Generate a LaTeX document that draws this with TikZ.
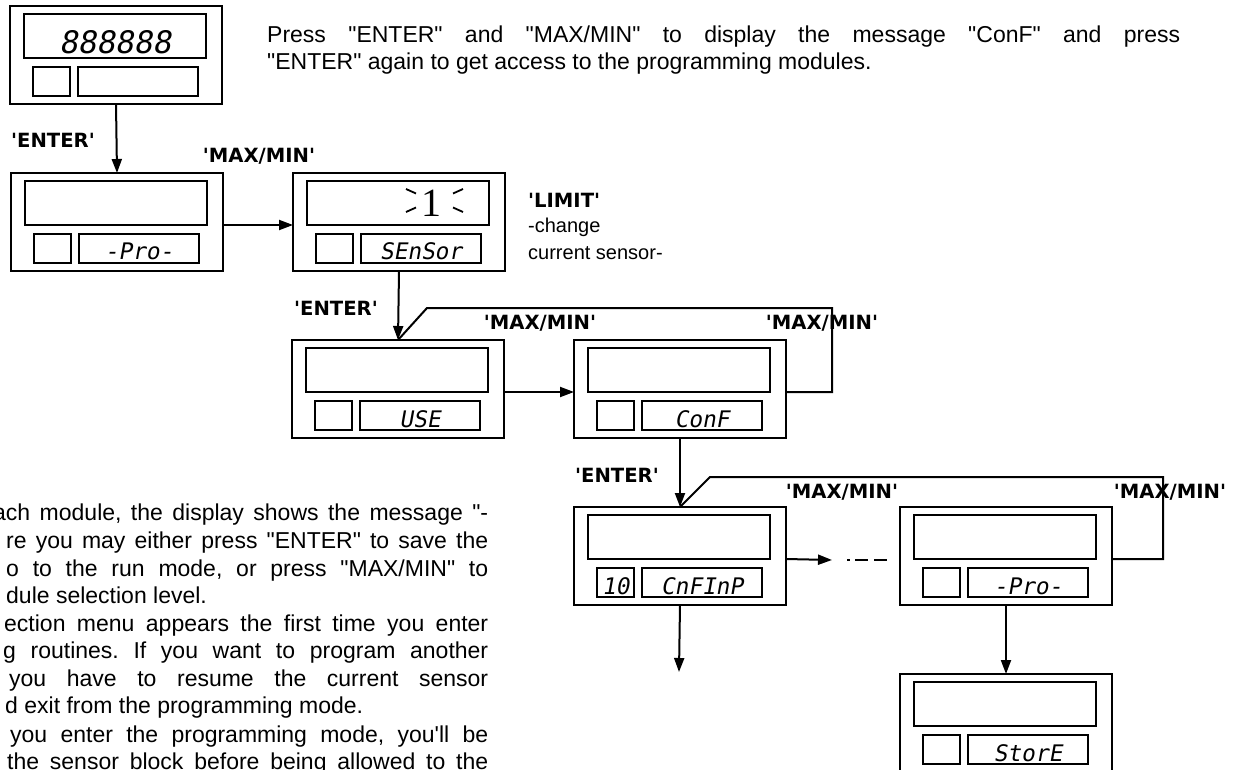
\documentclass[tikz,border=0pt]{standalone}
\usepackage{fontspec}
\usetikzlibrary{arrows.meta}
\newfontfamily\bodyfont{Liberation Sans}
\newfontfamily\lblfont{DejaVu Sans}
\newfontfamily\lcdfont{DejaVu Sans Mono}[FakeSlant=0.18]
\newfontfamily\onefont{Liberation Serif}
\frenchspacing
\tikzset{
 obox/.style={draw, line width=2pt, minimum width=212pt, minimum height=98pt, inner sep=0pt, outer sep=0pt, anchor=north west},
 ibox/.style={draw, line width=2pt, inner sep=0pt, outer sep=0pt, anchor=north west},
 lcdtxt/.style={font=\lcdfont\fontsize{22.8}{24}\selectfont, inner sep=0pt, anchor=base},
 lbl/.style={font=\lblfont\bfseries\fontsize{19.6}{22}\selectfont, inner sep=0pt},
 body/.style={font=\bodyfont\fontsize{23}{27.6}\selectfont\frenchspacing, inner sep=0pt, anchor=base west},
 small/.style={font=\bodyfont\fontsize{20}{26}\selectfont, inner sep=0pt, anchor=base west},
 arr/.style={line width=2pt, -{Triangle[length=14pt,width=10pt]}},
 con/.style={line width=2pt},
}
% name, x, y, small text, right text
\newcommand\lcdbox[5]{%
 \node[obox] (#1) at (#2,#3) {};
 \node[ibox, minimum width=182pt, minimum height=44pt] (#1d) at ([shift={(14,8)}]#1.north west) {};
 \node[ibox, minimum width=37pt, minimum height=29pt] (#1s) at ([shift={(23,61)}]#1.north west) {};
 \node[ibox, minimum width=120pt, minimum height=29pt] (#1r) at ([shift={(68,61)}]#1.north west) {};
 \node[lcdtxt] (#1st) at ([yshift=3pt]#1s.south) {#4};
 \node[lcdtxt] (#1rt) at ([yshift=3pt]#1r.south) {#5};
}
\begin{document}
\begin{tikzpicture}[x=1pt,y=-1pt]
\useasboundingbox (0,0) rectangle (1240,770);
\fill[white] (0,0) rectangle (1240,770);
\clip (0,0) rectangle (1240,770);

% boxes
\lcdbox{ba}{10}{6}{}{}
\lcdbox{bb}{11}{173}{}{-Pro-}
\lcdbox{bc}{293}{173}{}{SEnSor}
\lcdbox{bd}{292}{340}{}{USE}
\lcdbox{be}{574}{340}{}{ConF}
\lcdbox{bf}{574}{507}{10}{CnFInP}
\lcdbox{bg}{900}{507}{}{-Pro-}
\lcdbox{bh}{900}{674}{}{StorE}

\node[lcdtxt, font=\lcdfont\fontsize{31}{32}\selectfont] (eights) at ([yshift=4pt]bad.south) {888888};
\node[inner sep=0pt, anchor=base, font=\onefont\fontsize{40}{40}\selectfont] (one) at (431,217) {1};
\draw[line width=1.8pt] (406,189) -- (416,193.5) (406,212) -- (416,207.5);
\draw[line width=1.8pt] (463,189) -- (453,193.5) (463,212) -- (453,207.5);

% top text
\node[body] (t1) at (267,43) {\makebox[913pt][s]{Press "ENTER" and "MAX/MIN" to display the message "ConF" and press}};
\node[body] (t2) at (267,70) {"ENTER" again to get access to the programming modules.};

% left paragraph
\node[body] (p1) at (-7,520) {\makebox[495pt][s]{ach module, the display shows the message "-}};
\node[body] (p2) at (6,548) {\makebox[482pt][s]{re you may either press "ENTER" to save the}};
\node[body] (p3) at (6,576) {\makebox[482pt][s]{o to the run mode, or press "MAX/MIN" to}};
\node[body] (p4) at (6,603) {dule selection level.};
\node[body] (p5) at (4,631) {\makebox[484pt][s]{ection menu appears the first time you enter}};
\node[body] (p6) at (3,658) {\makebox[485pt][s]{g routines. If you want to program another}};
\node[body] (p7) at (9,686) {\makebox[479pt][s]{you have to resume the current sensor}};
\node[body] (p8) at (5,713) {d exit from the programming mode.};
\node[body] (p9) at (10,742) {\makebox[478pt][s]{you enter the programming mode, you'll be}};
\node[body] (p10) at (7,769) {\makebox[481pt][s]{the sensor block before being allowed to the}};

% labels
\node[lbl] (l1) at (53,140) {'ENTER'};
\node[lbl] (l2) at (259,156) {'MAX/MIN'};
\node[lbl, anchor=west] (l3) at (528,200) {'LIMIT'};
\node[small] (l3a) at (528,233) {-change};
\node[small] (l3b) at (528,259) {current sensor-};
\node[lbl] (l4) at (336,308) {'ENTER'};
\node[lbl] (l5) at (540,323) {'MAX/MIN'};
\node[lbl] (l6) at (822,323) {'MAX/MIN'};
\node[lbl] (l7) at (617,475) {'ENTER'};
\node[lbl] (l8) at (842,492) {'MAX/MIN'};
\node[lbl] (l9) at (1170,492) {'MAX/MIN'};

% connectors
\draw[arr] (ba.south) -- (bb.north);
\draw[arr] (bbd.south -| bb.east) -- (bbd.south -| bc.west);
\draw[arr] (bc.south) -- (bd.north);
\draw[arr] (bdd.south -| bd.east) -- (bdd.south -| be.west);
\draw[arr] (be.south) -- (bf.north);
\draw[arr] (bg.south) -- (bh.north);
\coordinate (fdown) at (679,672);
\draw[arr] (bf.south) -- (fdown);
\coordinate (dend) at (832,560);
\draw[arr] (bfd.south -| bf.east) -- (dend);
\coordinate (dsa) at (847,560);
\coordinate (dsb) at (887,560);
\draw[con, dash pattern=on 3pt off 5pt on 13pt off 6pt on 13pt off 50pt] (dsa) -- (dsb);
\coordinate (la) at (832,308);
\coordinate (lb) at (427,308);
\draw[con, line join=miter] (bed.south -| be.east) -- (bed.south -| la) -- (la) -- (lb) -- (bd.north);
\coordinate (lc) at (1163,477);
\coordinate (ld) at (710,477);
\draw[con, line join=miter] (bgd.south -| bg.east) -- (bgd.south -| lc) -- (lc) -- (ld) -- (bf.north);
\end{tikzpicture}
\end{document}
